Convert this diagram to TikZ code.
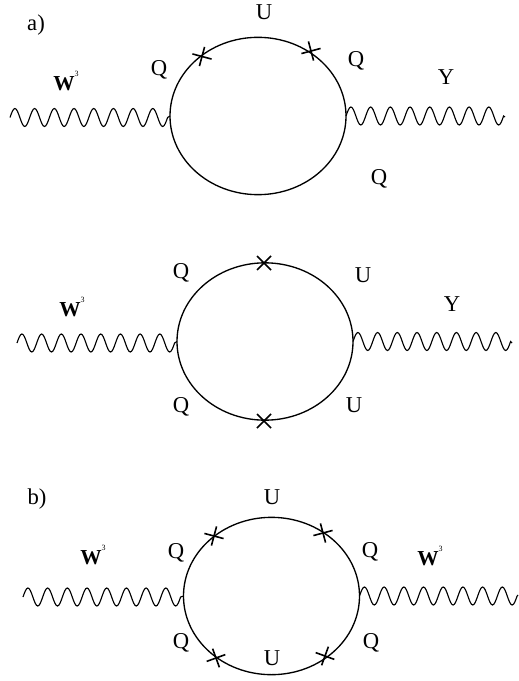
\documentclass[tikz,border=0pt]{standalone}
\usepackage{fontspec}
\setmainfont{Liberation Serif}
\usetikzlibrary{shapes.misc,shapes.geometric}
\tikzset{
  loopring/.style={draw,ellipse,line width=1pt,minimum width=132pt,minimum height=118pt,inner sep=0pt,outer sep=0pt},
  wave/.style={line width=0.85pt},
  wavy/.style={insert path={foreach \i in {1,...,8}{sin ++(4.925,-9) cos ++(4.925,9) sin ++(4.925,9) cos ++(4.925,-9)}}},
  xmark/.style={cross out,draw,line width=1.2pt,minimum size=10.5pt,inner sep=0pt,outer sep=0pt,rotate=#1},
  xmark/.default=0,
  lab/.style={font=\fontsize{17pt}{19pt}\selectfont,inner sep=0pt},
  wlab/.style={font=\fontsize{16pt}{18pt}\selectfont\bfseries,inner sep=0pt}
}
\newcommand{\wthree}{W\raisebox{0.62em}{\fontsize{6pt}{6pt}\selectfont\mdseries 3}}
\begin{document}
\begin{tikzpicture}[x=0.75pt,y=-0.75pt]
\useasboundingbox (0,0) rectangle (518,681);
% a)
\node[lab] (tagA) at (36,25) {a)};
\node[loopring] (r1) at (258,116) {};
\coordinate (w1l) at (10,117.5);
\coordinate (w1r) at (505,117);
\draw[wave] (w1l) [wavy] -- (r1.west);
\draw[wave] (r1.east) [wavy] -- (w1r);
\node[xmark=30] (x1a) at (202,56.5) {};
\node[xmark=-30] (x1b) at (311,51) {};
\node[wlab] (w1) at (66,81) {\wthree};
\node[lab] (q1a) at (159,69.5) {Q};
\node[lab] (u1) at (264,12) {U};
\node[lab] (q1b) at (356,61) {Q};
\node[lab] (y1) at (446,77) {Y};
\node[lab] (q1c) at (379,179) {Q};
% middle
\node[loopring] (r2) at (265,341.5) {};
\coordinate (w2l) at (17,343);
\coordinate (w2r) at (512,343);
\draw[wave] (w2l) [wavy] -- (r2.west);
\draw[wave] (r2.east) [wavy] -- (w2r);
\node[xmark] (x2a) at (264,263) {};
\node[xmark] (x2b) at (264,421) {};
\node[wlab] (w2) at (72,307) {\wthree};
\node[lab] (q2a) at (181,273) {Q};
\node[lab] (u2a) at (363,275) {U};
\node[lab] (y2) at (452,304) {Y};
\node[lab] (q2b) at (181,407) {Q};
\node[lab] (u2b) at (354,405) {U};
% b)
\node[lab] (tagB) at (37,499) {b)};
\node[loopring] (r3) at (271.5,596) {};
\coordinate (w3l) at (23,597);
\coordinate (w3r) at (518,595);
\draw[wave] (w3l) [wavy] -- (r3.west);
\draw[wave] (r3.east) [wavy] -- (w3r);
\node[xmark=30] (x3a) at (214,536) {};
\node[xmark=-30] (x3b) at (323,533) {};
\node[xmark=-25] (x3c) at (216,658) {};
\node[xmark=25] (x3d) at (325,656) {};
\node[wlab] (w3) at (93,555) {\wthree};
\node[lab] (q3a) at (176,553) {Q};
\node[lab] (u3a) at (272,497) {U};
\node[lab] (q3b) at (370,552) {Q};
\node[wlab] (w4) at (430,556) {\wthree};
\node[lab] (q3c) at (181,643) {Q};
\node[lab] (u3b) at (272,658) {U};
\node[lab] (q3d) at (371,643) {Q};
\end{tikzpicture}
\end{document}
